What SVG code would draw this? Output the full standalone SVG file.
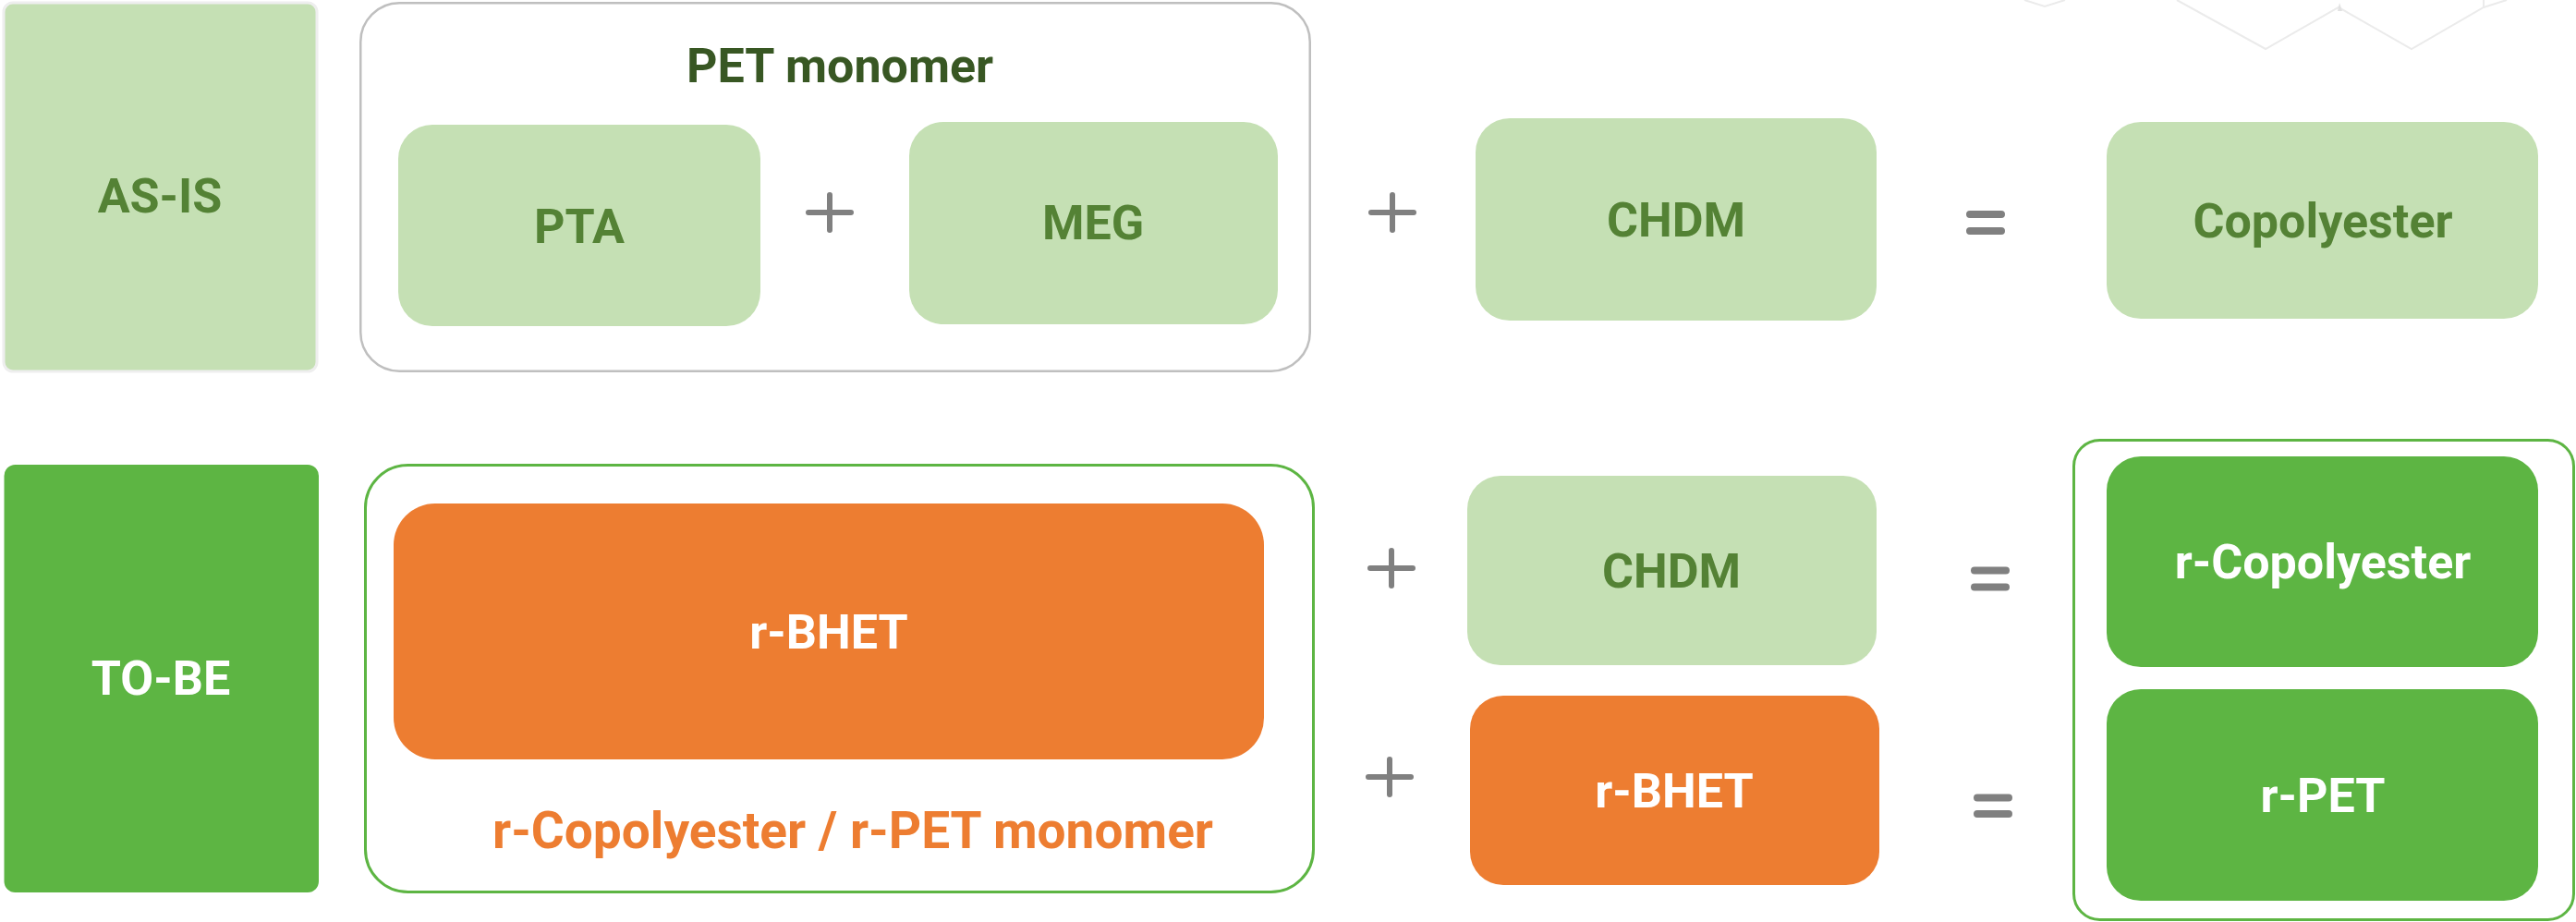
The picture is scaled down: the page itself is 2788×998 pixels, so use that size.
<svg xmlns="http://www.w3.org/2000/svg" width="2788" height="998" viewBox="0 0 2788 998">
<style>
text{font-family:Roboto,"Liberation Sans",Arial,sans-serif;font-weight:700;font-size:52px;text-anchor:middle}
.lt{fill:#C5E0B4}
.dk{fill:#548235}
.wt{fill:#FFFFFF}
.or{fill:#ED7D31}
.gr{fill:#5DB543}
.op{stroke:#808080;stroke-width:6;stroke-linecap:round;fill:none}
.eq{stroke:#808080;stroke-width:8;stroke-linecap:round;fill:none}
.deco{stroke:#EBEBEB;stroke-width:2;fill:none}
</style>
<rect width="2788" height="998" fill="#FFFFFF"/>
<g id="decoration">
<polyline class="deco" points="2191,0 2213,7 2235,0"/>
<polyline class="deco" points="2356,0 2452,53 2531,8 2610,53 2688,8 2713,0"/>
<line class="deco" x1="2688" y1="0" x2="2688" y2="8"/>
<polygon points="2530,12 2532,3 2535,12" fill="#E2E2E2"/>
</g>
<g id="as-is">
<rect x="4" y="3" width="339" height="399" rx="10" class="lt" stroke="#EEEEEE" stroke-width="3"/>
<text x="173" y="230" class="dk">AS-IS</text>
</g>
<g id="pet-monomer-group">
<rect x="390.25" y="3.25" width="1027.5" height="398.5" rx="42" fill="#FFFFFF" stroke="#BFBFBF" stroke-width="2.5"/>
<text x="909" y="89" fill="#385723">PET monomer</text>
</g>
<g id="pta">
<rect x="431" y="135" width="392" height="218" rx="37" class="lt"/>
<text x="627" y="263" class="dk">PTA</text>
</g>
<g id="meg">
<rect x="984" y="132" width="399" height="219" rx="37" class="lt"/>
<text x="1183" y="259" class="dk">MEG</text>
</g>
<g id="chdm-top">
<rect x="1597" y="128" width="434" height="219" rx="37" class="lt"/>
<text x="1814" y="256" class="dk">CHDM</text>
</g>
<g id="copolyester">
<rect x="2280" y="132" width="467" height="213" rx="37" class="lt"/>
<text x="2514" y="257" class="dk">Copolyester</text>
</g>
<g id="to-be">
<rect x="4.5" y="503" width="340.5" height="463" rx="12" class="gr"/>
<text x="174" y="752" class="wt">TO-BE</text>
</g>
<g id="r-monomer-group">
<rect x="395.5" y="503.5" width="1026" height="462" rx="46" fill="#FFFFFF" stroke="#5DB543" stroke-width="3"/>
<text x="923" y="918" fill="#ED7D31" style="font-size:55px">r-Copolyester / r-PET monomer</text>
</g>
<g id="r-bhet-main">
<rect x="426" y="545" width="942" height="277" rx="45" class="or"/>
<text x="897" y="702" class="wt">r-BHET</text>
</g>
<g id="chdm-bottom">
<rect x="1588" y="515" width="443" height="205" rx="36" class="lt"/>
<text x="1809" y="636" class="dk">CHDM</text>
</g>
<g id="r-bhet-side">
<rect x="1591" y="753" width="443" height="205" rx="36" class="or"/>
<text x="1812" y="874" class="wt">r-BHET</text>
</g>
<g id="result-group">
<rect x="2244.5" y="476.5" width="541" height="519" rx="28" fill="#FFFFFF" stroke="#5DB543" stroke-width="3"/>
</g>
<g id="r-copolyester">
<rect x="2280" y="494" width="467" height="228" rx="37" class="gr"/>
<text x="2514" y="626" class="wt">r-Copolyester</text>
</g>
<g id="r-pet">
<rect x="2280" y="746" width="467" height="229" rx="37" class="gr"/>
<text x="2514" y="879" class="wt">r-PET</text>
</g>
<g id="connectors">
<path class="op" d="M875 230H921M898 211V249"/>
<path class="op" d="M1484 230H1530M1507 211V249"/>
<path class="op" d="M1483 615H1529M1506 596V634"/>
<path class="op" d="M1481 841H1527M1504 822V860"/>
<path class="eq" d="M2132 232H2166M2132 250H2166"/>
<path class="eq" d="M2137 617.5H2171M2137 635.5H2171"/>
<path class="eq" d="M2140 863.5H2174M2140 881H2174"/>
</g>
</svg>
